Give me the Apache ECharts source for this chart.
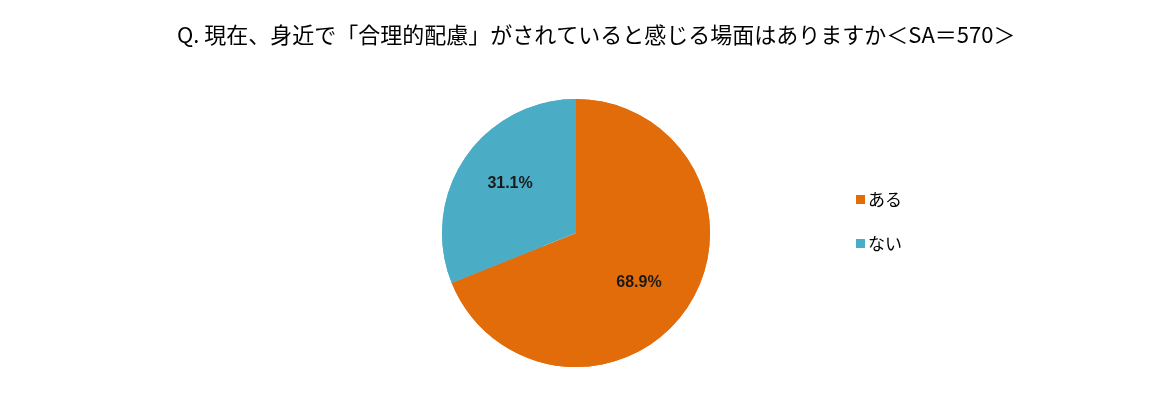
<!DOCTYPE html>
<html>
<head>
<meta charset="utf-8">
<script src="https://cdn.jsdelivr.net/npm/echarts@6/dist/echarts.min.js"></script>
<style>
  html, body { margin: 0; padding: 0; background: #fff; }
  #chart { width: 1157px; height: 415px; }
</style>
</head>
<body>
<div id="chart"></div>
<script>
const titleText = 'Q. 現在、身近で「合理的配慮」がされていると感じる場面はありますか＜SA＝570＞'
const categories = ['ある', 'ない']
const shares = [68.9, 31.1]
const colors = ['#E36C0A', '#4BACC6']
// small nudges so the numbers sit where the original has them
const labelPads = [[0, 20, 0, 0], [0, 0, 24, 14]]

const pieData = categories.map((name, i) => ({
  name,
  value: shares[i],
  itemStyle: { color: colors[i] }
}))

const labelData = pieData.map((d, i) => ({
  ...d,
  label: { padding: labelPads[i] }
}))

const chart = echarts.init(document.getElementById('chart'))

chart.setOption({
  backgroundColor: '#fff',
  animation: false,
  title: {
    text: titleText,
    left: 172,
    top: 19,
    textStyle: {
      fontFamily: 'Noto Sans CJK JP',
      fontSize: 22,
      fontWeight: 'normal',
      color: '#000'
    }
  },
  legend: {
    orient: 'vertical',
    left: 851,
    top: 186,
    itemWidth: 9,
    itemHeight: 9,
    itemGap: 27,
    icon: 'rect',
    data: categories,
    textStyle: {
      fontFamily: 'Noto Sans CJK JP',
      fontSize: 17,
      color: '#000',
      padding: [0, 0, 0, -2]
    }
  },
  series: [
    {
      type: 'pie',
      center: [576, 233],
      radius: [0, 134],
      startAngle: 90,
      clockwise: true,
      data: pieData,
      label: { show: false },
      labelLine: { show: false },
      emphasis: { disabled: true }
    },
    {
      // label ring only, so the numbers sit further out than the slice middle
      type: 'pie',
      center: [576, 233],
      radius: [36, 134],
      startAngle: 90,
      clockwise: true,
      silent: true,
      data: labelData,
      itemStyle: { color: 'rgba(0,0,0,0)' },
      label: {
        show: true,
        position: 'inside',
        formatter: p => p.value.toFixed(1) + '%',
        fontFamily: 'Liberation Sans Narrow, Liberation Sans',
        fontWeight: 'bold',
        fontSize: 16,
        color: '#1a1a1a'
      },
      labelLine: { show: false },
      emphasis: { disabled: true },
      legendHoverLink: false
    }
  ]
})
</script>
</body>
</html>
